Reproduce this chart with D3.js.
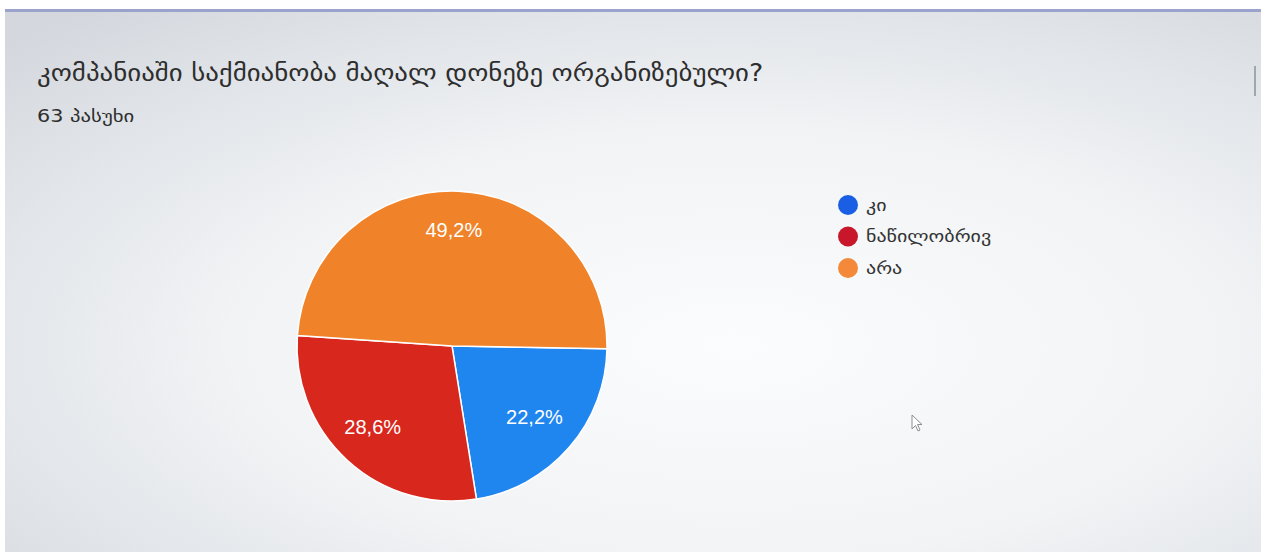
<!DOCTYPE html>
<html>
<head>
<meta charset="utf-8">
<script src="https://cdn.jsdelivr.net/npm/d3@7/dist/d3.min.js"></script>
<style>
  html, body { margin: 0; padding: 0; background: #ffffff; }
  svg { display: block; }
</style>
</head>
<body>
<svg id="chart" width="1261" height="552"></svg>
<script>
// Survey question and answer data
const titleText = "კომპანიაში საქმიანობა მაღალ დონეზე ორგანიზებული?";
const responsesText = "63 პასუხი";
const categories = ["კი", "ნაწილობრივ", "არა"];
const shares = [22.2, 28.6, 49.2];
const sliceColors = ["#1f86ef", "#d8281e", "#f0832a"];
const legendColors = ["#1a5fe3", "#c8172b", "#f4893a"];

const W = 1261, H = 552;
const svg = d3.select("#chart");
const defs = svg.append("defs");

// Screen backdrop: light centre fading to grey edges
const bg = defs.append("radialGradient").attr("id", "bg")
  .attr("cx", "0.58").attr("cy", "0.62").attr("r", "0.8");
bg.append("stop").attr("offset", "0").attr("stop-color", "#fbfcfd");
bg.append("stop").attr("offset", "0.5").attr("stop-color", "#f1f3f5");
bg.append("stop").attr("offset", "1").attr("stop-color", "#d4d8de");

svg.append("rect").attr("width", W).attr("height", H).attr("fill", "#ffffff");
svg.append("rect").attr("x", 5).attr("y", 9).attr("width", W - 5).attr("height", H - 9)
  .attr("fill", "url(#bg)");
svg.append("rect").attr("x", 5).attr("y", 9).attr("width", W - 5).attr("height", 3)
  .attr("fill", "#9aa3cc");
svg.append("rect").attr("x", W - 7).attr("y", 66).attr("width", 2).attr("height", 30)
  .attr("fill", "#a0a6ae");

// Stretch a text run horizontally to a wider letterform
function widen(sel, factor) {
  sel.each(function () {
    const w = this.getComputedTextLength();
    d3.select(this).attr("textLength", w * factor).attr("lengthAdjust", "spacingAndGlyphs");
  });
}

// Title and response count
svg.append("text").attr("x", 37).attr("y", 81)
  .attr("font-family", "DejaVu Sans, sans-serif").attr("font-size", 24)
  .attr("fill", "#2e2e2e").text(titleText)
  .call(widen, 1.12);
svg.append("text").attr("x", 37).attr("y", 122)
  .attr("font-family", "DejaVu Sans, sans-serif").attr("font-size", 17)
  .attr("fill", "#2e2e2e").text(responsesText)
  .call(widen, 1.22);

// Pie
const cx = 452, cy = 346, R = 155;
const start = 91 * Math.PI / 180;
const pie = d3.pie().sort(null).value(d => d.v)
  .startAngle(start).endAngle(start + 2 * Math.PI);
const data = categories.map((c, i) => ({ c, v: shares[i], col: sliceColors[i] }));
const arcs = pie(data);
const arc = d3.arc().innerRadius(0).outerRadius(R);
const labelArc = d3.arc().innerRadius(R * 0.73).outerRadius(R * 0.73);

const g = svg.append("g").attr("transform", `translate(${cx},${cy})`);
g.selectAll("path.slice").data(arcs).enter().append("path")
  .attr("class", "slice")
  .attr("d", arc)
  .attr("fill", d => d.data.col)
  .attr("stroke", "#ffffff").attr("stroke-width", 1.5);

g.selectAll("text.pct").data(arcs).enter().append("text")
  .attr("class", "pct")
  .attr("transform", d => {
    const [x, y] = labelArc.centroid(d);
    return `translate(${x - 3},${y - 3})`;
  })
  .attr("text-anchor", "middle").attr("dy", "0.35em")
  .attr("font-family", "Liberation Sans, Arial, sans-serif").attr("font-size", 20)
  .attr("fill", "#ffffff")
  .text(d => d3.format(".1f")(d.data.v).replace(".", ",") + "%");

// Legend
const lg = svg.append("g").attr("transform", "translate(848,205)");
const items = lg.selectAll("g").data(categories).enter().append("g")
  .attr("transform", (d, i) => `translate(0,${i * 31.5})`);
items.append("circle").attr("r", 10).attr("fill", (d, i) => legendColors[i]);
items.append("text").attr("x", 18).attr("dy", "0.35em")
  .attr("font-family", "DejaVu Sans, sans-serif").attr("font-size", 16)
  .attr("fill", "#333333").text(d => d)
  .call(widen, 1.25);

// Mouse pointer on screen
svg.append("path")
  .attr("d", "M0,0 L0,14 L3.5,10.5 L6,16 L8,15 L5.5,9.5 L10,9.5 Z")
  .attr("transform", "translate(912,415)")
  .attr("fill", "#ffffff").attr("stroke", "#8a8f96").attr("stroke-width", 1);
</script>
</body>
</html>
